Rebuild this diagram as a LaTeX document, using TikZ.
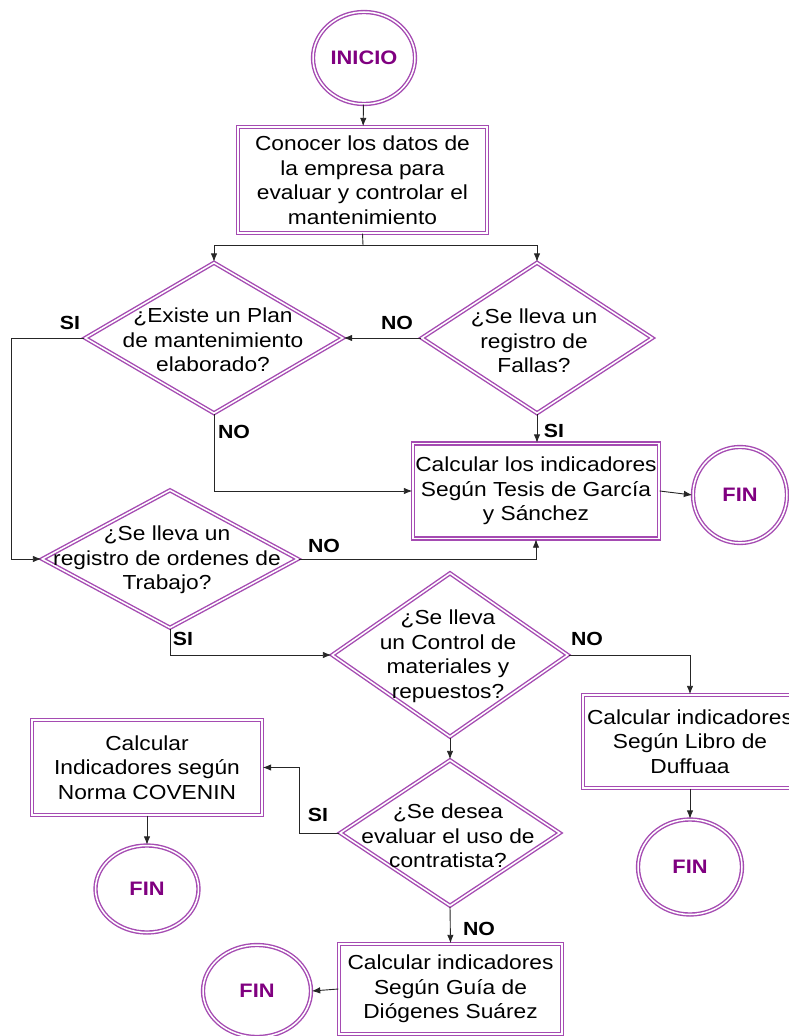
\documentclass[tikz,border=0pt]{standalone}
\usepackage{fontspec}
\setmainfont{Liberation Sans}[FakeStretch=1.12]
\usetikzlibrary{shapes.geometric,arrows.meta}

\definecolor{vio}{RGB}{165,75,178}
\definecolor{vtext}{RGB}{128,0,128}

\tikzset{
  pline/.style={draw=vio, line width=1.4pt, double=white, double distance=1.5pt},
  boxnode/.style={pline, rectangle, inner sep=0pt, align=center,
    font=\fontsize{20.3}{24.5}\selectfont},
  dia/.style={pline, diamond, inner sep=0pt},
  term/.style={pline, ellipse, inner sep=0pt, text=vtext,
    font=\bfseries\fontsize{19.5}{22}\selectfont},
  qtext/.style={align=center, inner sep=0pt, font=\fontsize{20.3}{24.5}\selectfont},
  lab/.style={inner sep=0pt, font=\bfseries\fontsize{19}{21}\selectfont},
  arr/.style={draw=black!85, line width=0.9pt, -{Latex[length=8.5pt,width=6.5pt]}},
  conn/.style={draw=black!85, line width=0.9pt}
}

\begin{document}
\begin{tikzpicture}[x=1pt, y=-1pt]
\useasboundingbox (0,0) rectangle (788,1036);

% terminals
\node[term, minimum width=102pt, minimum height=92pt] (start) at (364,58) {INICIO};
\node[term, minimum width=94pt, minimum height=96pt] (fin1) at (740,495) {FIN};
\node[term, minimum width=104pt, minimum height=95pt] (fin2) at (690,867) {FIN};
\node[term, minimum width=103pt, minimum height=87pt] (fin3) at (147,889) {FIN};
\node[term, minimum width=108pt, minimum height=92pt] (fin4) at (257,991) {FIN};

% process boxes
\node[boxnode, minimum width=249pt, minimum height=106pt] (b1) at (362.5,180)
  {Conocer los datos de\\la empresa para\\evaluar y controlar el\\mantenimiento};
\node[boxnode, minimum width=246pt, minimum height=95pt] (b2) at (536,491)
  {Calcular los indicadores\\Según Tesis de García\\y Sánchez};
\node[boxnode, minimum width=214pt, minimum height=93pt] (b3) at (690,741.5)
  {Calcular indicadores\\Según Libro de\\Duffuaa};
\node[boxnode, minimum width=230pt, minimum height=95pt] (b4) at (147,767.5)
  {Calcular\\Indicadores según\\Norma COVENIN};
\node[boxnode, minimum width=223pt, minimum height=90pt] (b5) at (450.5,989)
  {Calcular indicadores\\Según Guía de\\Diógenes Suárez};

% decisions
\node[dia, minimum width=258pt, minimum height=151pt] (d1) at (214,338) {};
\node[qtext] (d1t) at (213,340) {¿Existe un Plan\\de mantenimiento\\elaborado?};
\node[dia, minimum width=231pt, minimum height=151pt] (d2) at (537,338) {};
\node[qtext] (d2t) at (534,341) {¿Se lleva un\\registro de\\Fallas?};
\node[dia, minimum width=256pt, minimum height=138pt] (d3) at (170,559) {};
\node[qtext] (d3t) at (167,560) {¿Se lleva un\\registro de ordenes de\\Trabajo?};
\node[dia, minimum width=236pt, minimum height=164pt] (d4) at (450,655) {};
\node[qtext] (d4t) at (448,656) {¿Se lleva\\un Control de\\materiales y\\repuestos?};
\node[dia, minimum width=220pt, minimum height=146pt] (d5) at (450,833) {};
\node[qtext] (d5t) at (448,836) {¿Se desea\\evaluar el uso de\\contratista?};

% branch labels
\node[lab] (l1) at (70,323) {SI};
\node[lab] (l2) at (397,323) {NO};
\node[lab] (l3) at (234,432) {NO};
\node[lab] (l4) at (554,431) {SI};
\node[lab] (l5) at (324,546) {NO};
\node[lab] (l6) at (183,639) {SI};
\node[lab] (l7) at (587,639) {NO};
\node[lab] (l8) at (318,815) {SI};
\node[lab] (l9) at (479,929) {NO};

% connectors
\coordinate (split) at (363,245);
\draw[arr] (start) -- (b1);
\draw[conn] (b1.south) -- (split);
\draw[arr] (split) -| (d1.north);
\draw[arr] (split) -| (d2.north);
\draw[arr] (d2.west) -- (d1.east);
\draw[arr] (d1.west) -- ++(-73,0) |- (d3.west);
\draw[arr] (d1.south) |- (b2.west);
\draw[arr] (d2.south) -- (d2.south |- b2.north);
\draw[arr] (b2.east) -- (fin1.west);
\draw[arr] (d3.east) -| (b2.south);
\draw[arr] (d3.south) |- (d4.west);
\draw[arr] (d4.east) -| (b3.north);
\draw[arr] (b3.south) -- (fin2.north);
\draw[arr] (d4.south) -- (d5.north);
\draw[arr] (d5.west) -- ++(-40,0) |- (b4.east);
\draw[arr] (b4.south) -- (fin3.north);
\draw[arr] (d5.south) -- (b5.north);
\draw[arr] (b5.west) -- (fin4.east);
\end{tikzpicture}
\end{document}
